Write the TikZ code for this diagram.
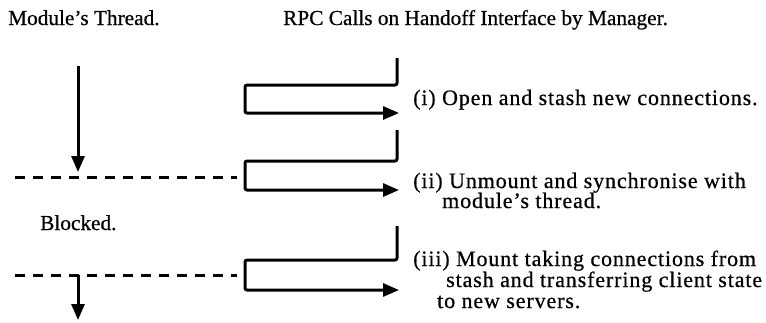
\documentclass[tikz,border=0pt]{standalone}
\usepackage{fontspec}
\setmainfont{Liberation Serif}[FakeBold=0.6]
\newfontfamily\lblfont{Liberation Serif}[FakeBold=0.6, LetterSpace=4]
\usetikzlibrary{arrows.meta}
\tikzset{
  ttl/.style={anchor=base west, inner sep=0pt, font=\fontsize{21.3}{25}\selectfont},
  lbl/.style={anchor=base west, inner sep=0pt, font=\lblfont\fontsize{22}{24}\selectfont},
  flow/.style={line width=3pt, line join=round, rounded corners=2pt, -{Triangle[length=16pt,width=13pt]}},
  sep/.style={line width=3pt, dash pattern=on 10pt off 8pt}
}
\begin{document}
\begin{tikzpicture}[x=1pt,y=-1pt]
\useasboundingbox (0,0) rectangle (766,322);
% titles
\node[ttl] (t1) at (8,25) {Module’s Thread.};
\node[ttl] (t2) at (283,25) {RPC Calls on Handoff Interface by Manager.};
% module thread
\coordinate (m0) at (78,66);
\coordinate (m1) at (78,172);
\draw[flow] (m0) -- (m1);
\coordinate (d1a) at (15,177);
\coordinate (d1b) at (237,177);
\draw[sep] (d1a) -- (d1b);
\node[ttl] (blk) at (40,230) {Blocked.};
\coordinate (d2a) at (15,275);
\coordinate (d2b) at (237,275);
\draw[sep] (d2a) -- (d2b);
\coordinate (m2) at (78,275);
\coordinate (m3) at (78,320);
\draw[flow] (m2) -- (m3);
% RPC call 1
\coordinate (a0) at (397,58);
\coordinate (a1) at (397,85);
\coordinate (a2) at (245,85);
\coordinate (a3) at (245,113);
\coordinate (a4) at (399,113);
\draw[flow] (a0) -- (a1) -- (a2) -- (a3) -- (a4);
% RPC call 2
\coordinate (b0) at (397,130);
\coordinate (b1) at (397,161);
\coordinate (b2) at (245,161);
\coordinate (b3) at (245,190);
\coordinate (b4) at (399,190);
\draw[flow] (b0) -- (b1) -- (b2) -- (b3) -- (b4);
% RPC call 3
\coordinate (c0) at (397,226);
\coordinate (c1) at (397,260);
\coordinate (c2) at (245,260);
\coordinate (c3) at (245,290);
\coordinate (c4) at (399,290);
\draw[flow] (c0) -- (c1) -- (c2) -- (c3) -- (c4);
% labels
\node[lbl] (l1) at (413,105) {(i) Open and stash new connections.};
\node[lbl] (l2a) at (413,188) {(ii) Unmount and synchronise with};
\node[lbl] (l2b) at (442,208) {module’s thread.};
\node[lbl] (l3a) at (413,266) {(iii) Mount taking connections from};
\node[lbl] (l3b) at (446,287) {stash and transferring client state};
\node[lbl] (l3c) at (437,308) {to new servers.};
\end{tikzpicture}
\end{document}
